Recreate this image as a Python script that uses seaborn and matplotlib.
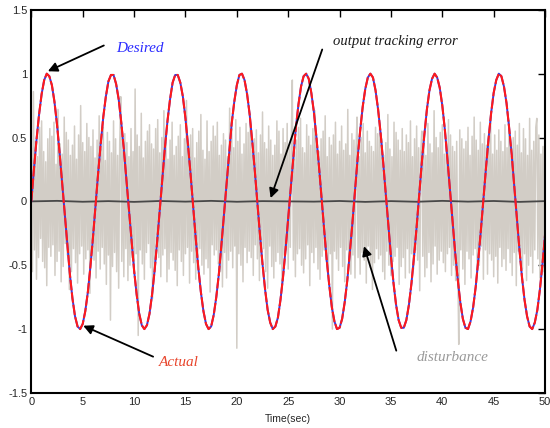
import numpy as np
import pandas as pd
import matplotlib
matplotlib.use("Agg")
import matplotlib.pyplot as plt
import seaborn as sns

# ---- data ----
t_step = 0.25
desired = [
 0.00,0.25,0.48,0.68,0.84,0.95,1.00,0.98,0.91,0.78,0.60,0.38,0.14,-0.11,-0.35,-0.57,-0.76,-0.90,-0.98,-1.00,
 -0.96,-0.86,-0.71,-0.51,-0.28,-0.03,0.22,0.45,0.66,0.82,0.94,0.99,0.99,0.92,0.80,0.62,0.41,0.17,-0.08,-0.32,
 -0.54,-0.73,-0.88,-0.97,-1.00,-0.97,-0.88,-0.73,-0.54,-0.31,-0.07,0.18,0.42,0.63,0.80,0.93,0.99,0.99,0.93,0.82,
 0.65,0.44,0.21,-0.04,-0.29,-0.52,-0.71,-0.86,-0.96,-1.00,-0.98,-0.89,-0.75,-0.57,-0.34,-0.10,0.15,0.39,0.61,0.78,
 0.91,0.99,1.00,0.95,0.84,0.68,0.47,0.24,-0.01,-0.26,-0.49,-0.69,-0.85,-0.95,-1.00,-0.98,-0.91,-0.77,-0.59,-0.37,
 -0.13,0.12,0.36,0.58,0.76,0.90,0.98,1.00,0.96,0.85,0.70,0.50,0.27,0.02,-0.22,-0.46,-0.66,-0.83,-0.94,-1.00,
 -0.99,-0.92,-0.79,-0.62,-0.40,-0.17,0.08,0.33,0.55,0.74,0.88,0.97,1.00,0.97,0.87,0.72,0.53,0.30,0.06,-0.19,
 -0.43,-0.64,-0.81,-0.93,-0.99,-0.99,-0.93,-0.81,-0.64,-0.43,-0.20,0.05,0.30,0.52,0.72,0.87,0.96,1.00,0.97,0.89,
 0.75,0.56,0.33,0.09,-0.16,-0.40,-0.61,-0.79,-0.92,-0.99,-1.00,-0.94,-0.83,-0.67,-0.46,-0.23,0.02,0.26,0.49,0.69,
 0.85,0.95,1.00,0.98,0.90,0.77,0.58,0.37,0.12,-0.13,-0.37,-0.59,-0.77,-0.90,-0.98,-1.00,-0.95,-0.85,-0.69,-0.49,
 -0.26,
]
actual = list(desired)

err_step = 2.5
tracking_error = [0.000,0.004,-0.003,0.002,-0.004,0.003,-0.002,0.004,-0.003,0.002,0.000,
                  -0.002,0.003,-0.004,0.002,-0.003,0.004,-0.002,0.003,-0.004,0.002]

dist_step = 0.1
disturbance = [
 0.42,-0.55,0.86,-0.38,0.47,-0.61,0.35,-0.44,0.58,-0.29,0.63,-0.47,0.39,-0.52,0.31,-0.66,0.49,-0.36,0.57,-0.43,
 0.51,-0.34,0.62,-0.58,0.29,-0.47,0.72,-0.39,0.45,-0.63,0.37,-0.51,0.66,-0.33,0.54,-0.42,0.48,-0.69,0.36,-0.55,
 0.44,-0.37,0.59,-0.48,0.33,-0.64,0.52,-0.41,0.75,-0.35,0.46,-0.57,0.39,-0.45,0.61,-0.38,0.50,-0.72,0.43,-0.31,
 0.56,-0.46,0.34,-0.60,0.48,-0.39,0.67,-0.53,0.41,-0.36,0.58,-0.49,0.32,-0.65,0.54,-0.42,0.47,-0.93,0.38,-0.51,
 0.63,-0.40,0.49,-0.55,0.36,-0.68,0.45,0.82,-0.47,0.40,-0.59,0.53,-0.37,0.46,-0.62,0.35,-0.50,0.57,-0.44,0.39,
 -0.56,0.88,-0.41,0.52,-1.05,0.43,-0.38,0.69,-0.49,0.34,-0.61,0.47,-0.40,0.55,-0.33,0.60,-0.52,0.45,-0.76,0.41,
 -0.48,0.57,-0.35,0.64,-0.44,0.38,-0.59,0.50,-0.42,0.71,-0.37,0.46,-0.63,0.33,-0.53,0.48,-0.40,0.62,-0.46,0.36,
 -0.54,0.43,-0.66,0.51,-0.38,0.60,-0.47,0.35,-0.58,0.49,-0.41,0.79,-0.36,0.45,-0.64,0.52,-0.39,0.57,-0.48,0.34,
 -0.61,0.46,-0.43,0.55,-0.37,0.68,-0.50,0.40,-0.57,0.33,-0.45,0.63,-0.52,0.39,-0.71,0.47,-0.34,0.59,-0.42,0.51,
 -0.38,0.62,-0.49,0.36,-0.55,0.44,-0.67,0.53,-0.40,0.48,-0.60,0.35,-0.46,0.73,-0.39,0.57,-0.52,0.42,-0.35,0.64,
 -1.15,0.47,-0.41,0.58,-0.50,0.37,-0.63,0.45,-0.36,0.61,-0.48,0.54,-0.39,0.66,-0.44,0.40,-0.58,0.49,-0.34,0.56,
 -0.45,0.38,-0.62,0.52,-0.43,0.70,-0.37,0.46,-0.55,0.41,-0.68,0.59,-0.35,0.48,-0.51,0.36,-0.60,0.44,-0.47,0.63,
 -0.40,0.55,-0.49,0.37,-0.64,0.57,-0.42,0.46,-0.38,0.61,-0.53,0.43,-0.36,0.50,0.95,-0.46,0.39,-0.59,0.48,-0.41,
 0.58,-0.37,0.65,-0.50,0.42,-0.56,0.38,-0.45,0.60,-0.34,0.51,-0.66,0.44,-0.40,0.57,-0.48,0.71,-0.36,0.46,-0.53,
 0.39,-0.61,0.49,-0.43,0.55,-0.38,0.67,-0.47,0.35,-0.58,0.50,-0.41,0.44,-1.00,0.52,-0.39,0.62,-0.45,0.37,-0.54,
 0.47,-0.36,0.59,-0.51,0.40,-0.63,0.45,-0.38,0.72,-0.49,0.36,-0.57,0.53,-0.42,0.48,-0.60,0.41,0.66,-0.44,0.35,
 -0.57,0.50,-0.40,0.61,-0.46,0.38,-0.64,0.55,-0.35,0.47,-0.52,0.43,-0.69,0.39,-0.48,0.58,-0.37,0.53,-0.45,0.60,
 -0.42,0.49,-0.55,0.36,-0.61,0.46,-0.39,0.68,-0.50,0.41,-0.58,0.35,-0.47,0.62,-0.43,0.54,-0.36,0.48,-0.65,0.40,
 -0.51,0.57,-0.44,0.39,-0.60,0.52,-0.37,0.46,-0.56,0.63,-0.41,0.35,-0.53,0.49,-0.38,0.59,-0.46,0.42,-0.70,0.37,
 0.55,-0.43,0.48,-0.59,0.36,-0.52,0.61,-0.40,0.45,-0.63,0.38,-0.49,0.71,-0.35,0.50,-0.57,0.42,-0.46,0.54,-0.39,
 0.60,-0.48,0.37,-0.55,0.46,-0.41,0.64,-0.36,0.52,-0.58,0.43,-0.50,0.39,-0.62,0.47,-0.44,-1.12,0.56,-0.38,0.49,
 -0.53,0.41,-0.65,0.47,-0.39,0.58,-0.45,0.36,-0.60,0.51,-0.42,0.66,-0.37,0.48,-0.56,0.40,-0.50,0.62,-0.35,0.45,
 -0.61,0.53,-0.38,0.44,-0.57,0.49,-0.41,0.68,-0.46,0.37,-0.59,0.52,-0.43,0.40,-0.64,0.56,-0.36,0.47,-0.51,0.39,
 -0.45,0.60,-0.54,0.42,-0.37,0.63,-0.48,0.35,-0.58,0.50,-0.40,0.55,-0.66,0.44,-0.39,0.61,-0.47,0.38,-0.53,0.57,
 -0.41,0.49,-0.62,0.36,-0.50,0.65,-0.43,0.40,-0.56,0.47,-0.38,0.58,0.65,-0.45,0.52,-0.60,0.37,-0.48,0.43,-0.55,
 0.34,
]

x_ticks = [0, 5, 10, 15, 20, 25, 30, 35, 40, 45, 50]
y_ticks = [-1.5, -1, -0.5, 0, 0.5, 1, 1.5]
y_tick_labels = ["-1.5", "-1", "-0.5", "0", "0.5", "1", "1.5"]

# ---- frames ----
df_sig = pd.DataFrame({"t": np.arange(len(desired)) * t_step,
                       "desired": desired, "actual": actual})
df_dist = pd.DataFrame({"t": np.arange(len(disturbance)) * dist_step,
                        "d": disturbance})
df_err = pd.DataFrame({"t": np.arange(len(tracking_error)) * err_step,
                       "e": tracking_error})

sns.set_theme(style="white")
plt.rcParams["font.family"] = ["Liberation Sans", "DejaVu Sans"]

fig = plt.figure(figsize=(5.5, 4.28), dpi=100)
ax = fig.add_axes([0.057, 0.082, 0.934, 0.895])

sns.lineplot(data=df_dist, x="t", y="d", ax=ax, color="#d2cdc6", lw=1.1)
sns.lineplot(data=df_err, x="t", y="e", ax=ax, color="#484848", lw=1.3)
sns.lineplot(data=df_sig, x="t", y="desired", ax=ax, color="#3a3adf", lw=1.4)
sns.lineplot(data=df_sig, x="t", y="actual", ax=ax, color="#ff1a1a", lw=1.5,
             dashes=False, linestyle=(0, (5, 1.0)))

ax.set_xlim(0, 50)
ax.set_ylim(-1.5, 1.5)
ax.set_xticks(x_ticks)
ax.set_xticklabels([str(v) for v in x_ticks])
ax.set_yticks(y_ticks)
ax.set_yticklabels(y_tick_labels)
ax.set_xlabel("Time(sec)", fontsize=7.5, labelpad=5)
ax.set_ylabel("")
ax.tick_params(direction="in", length=5, width=1, color="black",
               top=True, right=True, labelsize=8, pad=3)
for s in ax.spines.values():
    s.set_visible(True)
    s.set_color("black")
    s.set_linewidth(1.5)

serif = ["Liberation Serif", "DejaVu Serif"]
arrow = dict(arrowstyle="-|>", color="black", lw=1.3, mutation_scale=14)
ax.annotate("", xy=(1.36, 1.01), xytext=(7.3, 1.23), arrowprops=arrow)
ax.text(10.6, 1.20, "Desired", color="#2b2bff", fontsize=11, style="italic",
        family=serif, ha="center", va="center")

ax.annotate("", xy=(23.2, 0.005), xytext=(28.4, 1.21), arrowprops=arrow)
ax.text(35.4, 1.25, "output tracking error", color="#1a1a1a", fontsize=10.5,
        style="italic", family=serif, ha="center", va="center")

ax.annotate("", xy=(4.8, -0.965), xytext=(12.1, -1.225), arrowprops=arrow)
ax.text(14.3, -1.265, "Actual", color="#e8452c", fontsize=11, style="italic",
        family=serif, ha="center", va="center")

ax.annotate("", xy=(32.3, -0.33), xytext=(35.6, -1.19), arrowprops=arrow)
ax.text(41.0, -1.22, "disturbance", color="#9a9a9a", fontsize=11,
        style="italic", family=serif, ha="center", va="center")

fig.savefig("out.png", dpi=100, facecolor="white")
